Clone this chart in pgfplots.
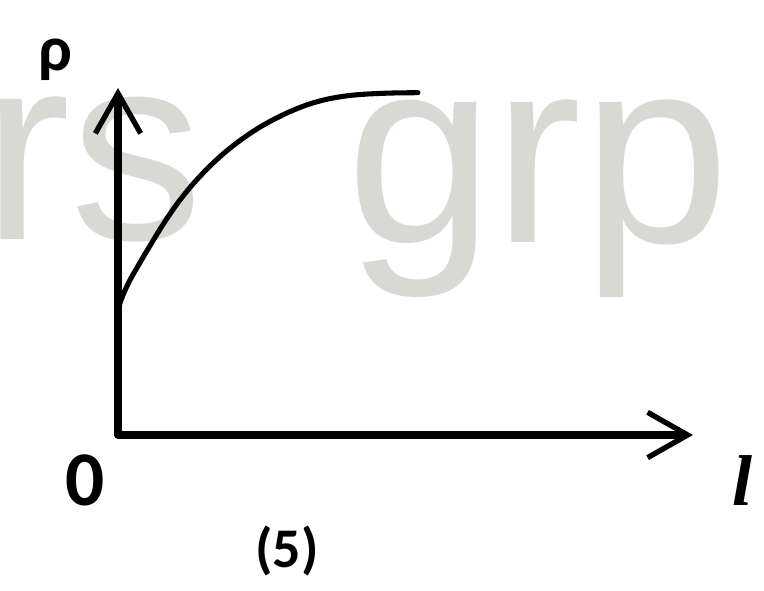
\documentclass[border=0pt]{standalone}
\usepackage{pgfplots}
\pgfplotsset{compat=1.18}
\usetikzlibrary{arrows.meta}
\usepackage{fontspec}
\setmainfont{Carlito}
\newfontfamily\wmfont{Liberation Sans}
\newfontfamily\serffont{Liberation Serif}
\definecolor{wm}{RGB}{217,217,212}
\begin{document}
\begin{tikzpicture}[x=0.75pt,y=0.75pt]
\useasboundingbox (0,0) rectangle (764,591);
\clip (0,0) rectangle (764,591);
% watermark
\node[anchor=base west,inner sep=0pt,text=wm] at (-18,351) {\wmfont\fontsize{199}{199}\selectfont rs};
\node[anchor=base west,inner sep=0pt,text=wm] at (346,348) {\wmfont\fontsize{199}{199}\selectfont grp};
\begin{axis}[
  at={(118,156)}, anchor=origin,
  x=0.75pt, y=0.75pt,
  xmin=0, xmax=575, ymin=0, ymax=347,
  axis lines=left,
  axis line style={line width=5.5pt, line cap=round,
    -{Straight Barb[length=30pt,width=34pt,line width=4pt]}},
  xtick=\empty, ytick=\empty,
  clip=false,
]
\addplot[smooth, line width=3.8pt, black, line cap=round] coordinates {
(0,126) (5,140) (12,155) (20,169) (30,186) (45,210.5) (60,232.4) (75,251) (90,267) (105,281) (120,293) (135,303.5) (150,312.5) (170,322.5) (190,330.5) (210,336) (230,339.3) (250,341) (275,342) (300,342.3)
};
\end{axis}
\node[font=\fontsize{48}{48}\selectfont\bfseries] at (55,531) {ρ};
\node[font=\fontsize{58}{58}\selectfont\bfseries] at (85,111) {0};
\node[font=\fontsize{54}{54}\selectfont\serffont\bfseries\itshape] at (742,110) {l};
\node[font=\fontsize{42}{42}\selectfont\bfseries] at (287,40) {(5)};
\end{tikzpicture}
\end{document}
